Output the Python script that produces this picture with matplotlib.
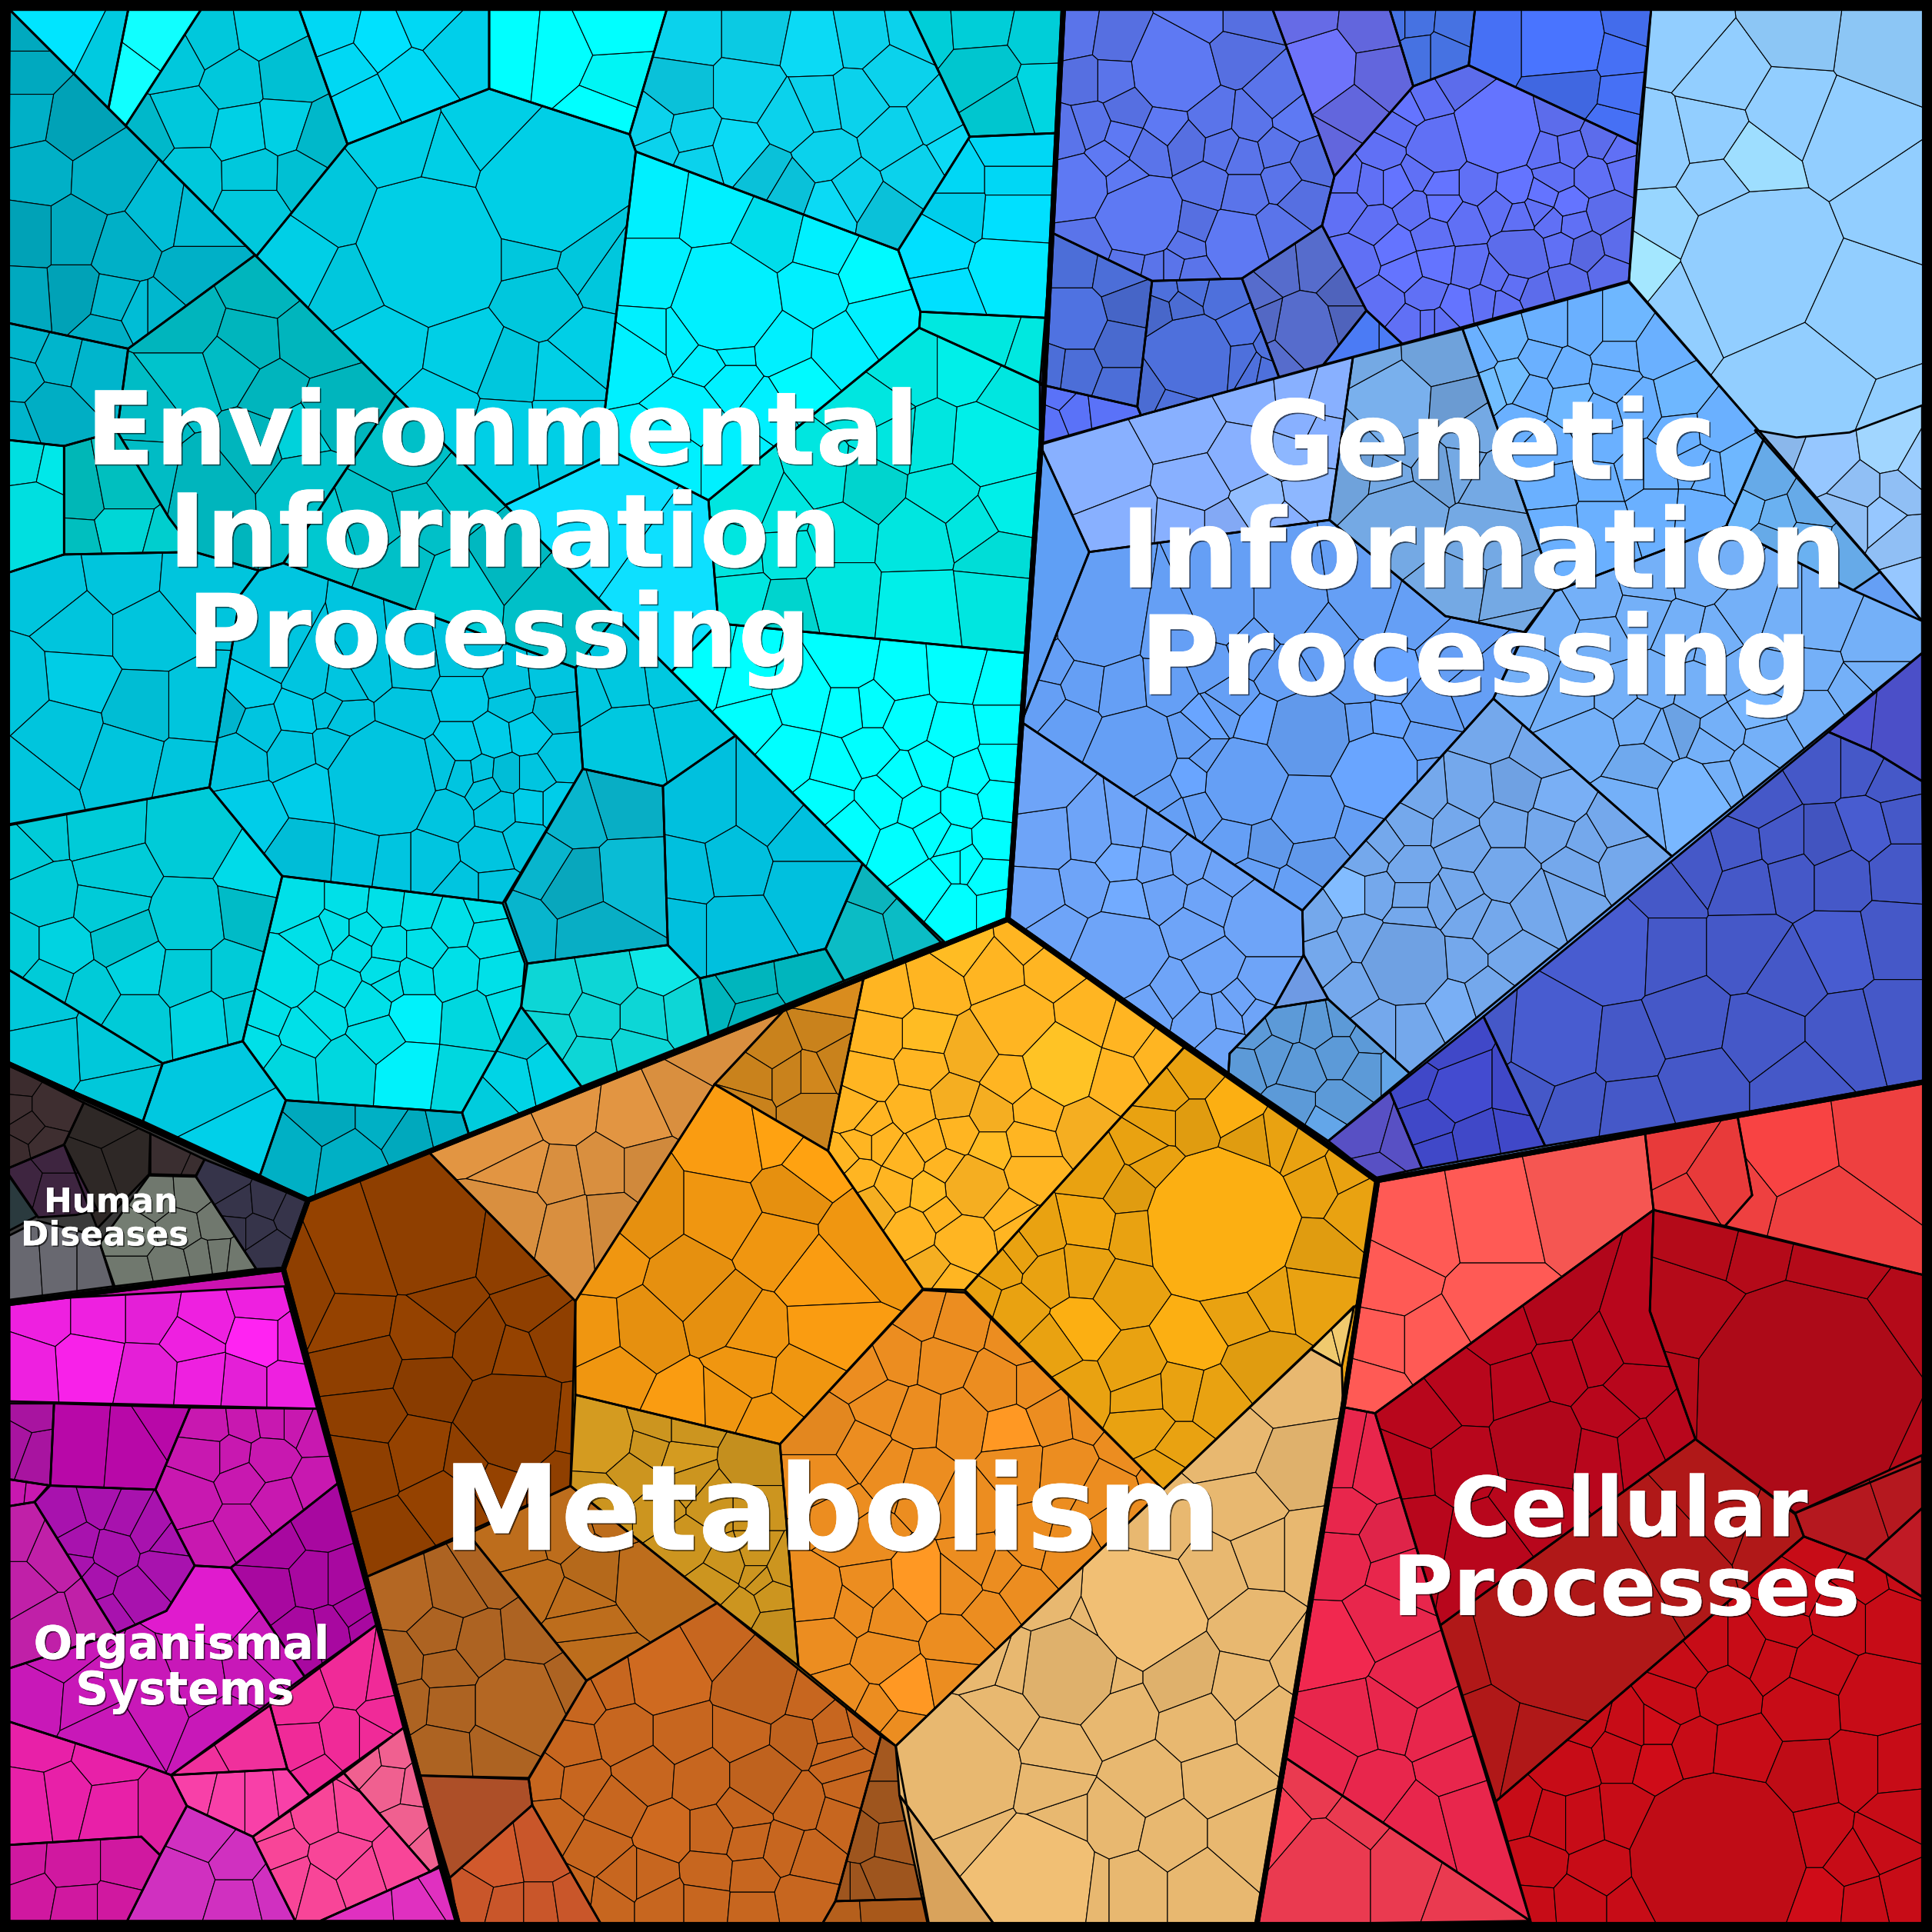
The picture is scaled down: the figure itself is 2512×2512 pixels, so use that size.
import numpy as np
import matplotlib
matplotlib.use('Agg')
import matplotlib.pyplot as plt
import matplotlib.colors as mcolors
import matplotlib.patheffects as pe
from matplotlib.patches import Polygon, Rectangle


def crop(ox, oy, pts, sx=3.0, sy=3.0):
    out = []
    for p in pts:
        q = [ox + p[0] / sx, oy + p[1] / sy]
        if len(p) > 2:
            q.append(p[2])
        if len(p) > 3:
            q.append(p[3] / sy)
        out.append(tuple(q))
    return out


# top level categories, outline (1568 px grid)
top_env = [(6, 6), (863, 6), (845, 360), (818, 746), (250, 974), (6, 863)]
top_gen = [(863, 6), (1562, 6), (1562, 878), (1118, 958), (818, 746), (845, 360)]
top_met = [(818, 746), (1118, 958), (1090, 1142), (1020, 1562), (372, 1562), (230, 1030), (250, 974)]
top_hum = [(6, 863), (250, 974), (230, 1030), (6, 1058)]
top_org = [(6, 1058), (230, 1030), (372, 1562), (6, 1562)]
top_cel = [(1118, 958), (1562, 878), (1562, 1562), (1020, 1562), (1090, 1142)]
top_colors = ['#00c8dc', '#659ff5', '#e9a211', '#3a3a3a', '#cc12b0', '#c70c17']

# environmental information processing: (outline, colour, cells x, y, shade, radius)
env = [
    ([(8, 8), (104, 8), (88, 88)], '#00e5ff', [(50, 30, 0), (90, 50, -3)]),
    ([(104, 8), (163, 8), (102, 102), (88, 88)], '#10ffff', [(135, 30, 0), (105, 70, 0)]),
    ([(163, 8), (243, 8), (282, 117), (208, 208), (102, 102)], '#00c8dc', [
        (170, 32, 0), (215, 25, 1), (190, 65, 0), (233, 60, -1), (152, 97, 0), (197, 107, 1), (230, 103, 1),
        (260, 113, -2), (153, 143, 0), (207, 142, 0), (207, 167, 0), (243, 143, -1), (117, 113, -2), (143, 47, 0)]),
    ([(243, 8), (397, 8), (397, 72), (282, 117)], '#00d8f4', [
        (267, 23, 0), (310, 33, 1), (367, 37, -1), (280, 57, 0), (293, 83, 0), (333, 63, 0), (347, 17, 0)]),
    ([(397, 8), (541, 8), (511, 109), (397, 72)], '#00ffff', [
        (420, 40, 0), (450, 43, 0), (503, 67, -1), (500, 20, 0), (493, 93, 0)]),
    ([(541, 8), (738, 8), (787, 111), (729, 203), (516, 123), (511, 109)], '#0bd2ec', crop(499, 0, [
        (180, 80), (340, 80, -1), (490, 110, 1), (600, 90), (730, 70), (160, 220, -2), (320, 220), (495, 260), (590, 245), (680, 180), (680, 340),
        (90, 310), (180, 330), (300, 370, 1), (430, 290), (510, 380), (830, 360, 1), (790, 290), (370, 430, -2), (420, 460, -2), (580, 470),
        (530, 500, 1), (660, 520, -2), (730, 420), (195, 400), (110, 360)])),
    ([(738, 8), (863, 8), (858, 108), (787, 111)], '#00ced8', crop(499, 0, [
        (750, 60), (890, 50), (1040, 80), (900, 180, -1), (950, 260, -1), (1045, 230, 1)])),
    ([(787, 111), (858, 108), (850, 258), (747, 253), (729, 203)], '#00e0ff', crop(499, 0, [
        (960, 370, -1), (960, 440, -1), (960, 510), (950, 660, 1), (780, 610), (800, 720), (840, 500, -2), (840, 440, -1)])),
    ([(282, 117), (397, 72), (511, 109), (516, 123), (490, 340), (499, 367), (410, 410), (208, 208)], '#00cfe6', [
        (350, 200, 0, 52), (440, 155, 0, 45), (490, 220, -1), (395, 112, 0), (363, 133, 0), (330, 123, 0), (272, 170, -1),
        (245, 210, 0), (285, 230, -1), (310, 280, 0), (380, 290, 0), (440, 243, -1), (480, 213, -1), (430, 200, -1),
        (477, 283, 0), (413, 303, -1), (457, 307, 0), (360, 333, 0), (410, 347, 0), (457, 343, 0)]),
    ([(516, 123), (729, 203), (747, 253), (746, 266), (575, 406), (499, 367), (490, 340)], '#00f0ff', crop(499, 0, [
        (100, 480), (240, 500), (380, 570, -2), (510, 600), (620, 660, 1), (270, 740, 0, 110), (100, 680), (480, 710), (650, 790), (70, 850),
        (400, 840), (560, 850), (230, 880), (280, 850), (280, 930), (370, 1000), (450, 950, 1), (190, 1000), (90, 820), (160, 820), (120, 1100), (300, 1100)])),
    ([(747, 253), (850, 258), (847, 312), (746, 266)], '#00e8e0', crop(499, 0, [(900, 840), (1020, 880)])),
    ([(746, 266), (847, 312), (833, 530), (583, 506), (575, 406)], '#00e6e0', crop(499, 0, [
        (710, 900), (860, 900, 1), (960, 970), (640, 1000), (910, 1080, 1, 70), (780, 1070), (670, 1060), (610, 1180, -2), (810, 1200), (950, 1240, 1),
        (510, 1170), (340, 1220), (410, 1250), (740, 1310), (880, 1280), (930, 1350, -1), (540, 1290), (300, 1350), (415, 1340), (310, 1450),
        (540, 1450), (745, 1470, 1), (420, 1480, -2), (920, 1450)])),
    ([(545, 545), (583, 506), (833, 530), (818, 746), (766, 767)], '#00ffff', crop(400, 499, [
        (520, 150), (600, 170), (620, 250), (760, 200), (870, 130), (990, 150), (1130, 140), (1240, 170), (920, 220), (870, 225), (1010, 260),
        (1120, 290), (1240, 270), (730, 350), (920, 330), (830, 375), (1070, 370), (995, 400), (1160, 390), (1240, 360), (810, 450), (950, 450),
        (1140, 470), (1040, 470), (1230, 450), (870, 520), (1000, 570), (1075, 530), (1120, 555), (1215, 550), (1145, 600), (1210, 640), (1060, 660),
        (1130, 710), (1225, 710), (1130, 600)])),
    ([(499, 367), (575, 406), (583, 506), (545, 545), (410, 410)], '#0de0ff', [(480, 420, 0), (550, 470, 0)]),
    ([(8, 8), (207, 207), (104, 283), (6, 262)], '#00a9bf', [
        (20, 23, 0), (20, 60, 0), (60, 100, -1), (20, 93, 1), (30, 140, 1), (87, 143, 1), (23, 190, -1), (60, 190, 0),
        (100, 203, 1), (133, 173, 3), (157, 177, 3), (157, 223, 1), (60, 240, -1), (20, 243, 0), (92, 247, 2), (113, 257, 3),
        (127, 257, 2), (87, 270, 1)]),
    ([(207, 207), (321, 321), (230, 457), (210, 463), (158, 448), (137, 420), (95, 350), (104, 283)], '#00b5bd', [
        (150, 263, 0), (213, 230, 0), (203, 280, 0), (250, 277, 0), (150, 310, 2), (190, 297, 1), (223, 317, 0),
        (267, 333, 0), (207, 360, 0), (167, 393, 0), (240, 350, 4), (247, 390, 2), (120, 333, 1), (117, 383, 1)]),
    ([(321, 321), (500, 500), (467, 542), (230, 457)], '#00c0c8', [
        (333, 367, 0), (373, 400, 1), (413, 450, -1), (323, 460, 0), (370, 477, 2), (450, 483, 0), (300, 430, 0),
        (347, 420, 0), (267, 440, 1)]),
    ([(6, 357), (52, 362), (52, 450), (6, 465)], '#00dfe0', [(20, 367, 0), (48, 373, 1), (27, 417, 0)]),
    ([(52, 362), (95, 350), (137, 420), (158, 448), (52, 450)], '#00bfbf', [
        (63, 400, -1), (100, 393, 0), (100, 433, 3), (60, 442, 0), (137, 443, 2)]),
    ([(6, 262), (104, 283), (95, 350), (52, 362), (6, 357)], '#00b5cc', [
        (20, 277, 0), (48, 290, 0), (77, 297, 0), (13, 307, 0), (40, 333, -1), (10, 345, 0)]),
    ([(6, 465), (52, 450), (158, 448), (210, 463), (195, 483), (170, 639), (7, 669)], '#00c5dd', [
        (40, 480), (100, 470), (160, 475), (63, 509), (120, 509, 0), (60, 552, 1), (117, 579, -1), (157, 579), (50, 592), (107, 612), (153, 622), (13, 639), (17, 556)]),
    ([(195, 483), (210, 463), (230, 457), (467, 542), (473, 624), (408, 733), (229, 711), (170, 639)], '#00c5e0', crop(0, 499, [
        (610, 180, 1), (550, 240, -2), (625, 270), (730, 240, 1), (800, 230), (835, 250), (580, 340), (720, 330), (810, 320), (930, 400, 0, 120),
        (990, 240), (1130, 200, 1), (1250, 210), (1350, 230, -1), (1130, 320, 1), (1200, 300, 1), (1285, 290, 1), (1360, 350), (1070, 370), (1130, 390),
        (1170, 385), (1230, 390, -1), (1300, 390), (1180, 420), (1215, 470), (1290, 465, 1), (1355, 465, 1), (1090, 480), (1280, 550), (1190, 580), (1050, 600), (1130, 670),
        (1200, 670), (950, 600), (880, 590), (740, 580, -1), (610, 490, 1), (760, 420, 1), (900, 130), (760, 160), (830, 170), (650, 100), (1130, 100), (1240, 170),
        (1340, 160), (1000, 120)])),
    ([(467, 542), (500, 500), (597, 597), (538, 638), (473, 624)], '#00c8e0', crop(400, 499, [(310, 300, 0, 60), (250, 200), (470, 270), (450, 160), (300, 180)])),
    ([(473, 624), (538, 638), (542, 767), (428, 782), (410, 732)], '#08aec5', crop(400, 499, [
        (320, 450), (190, 490, 1), (330, 640, 2), (200, 650, -1), (120, 600, 1), (250, 780), (60, 770, 1)])),
    ([(538, 638), (597, 597), (700, 701), (670, 770), (568, 794), (542, 767)], '#00c0de', crop(400, 499, [
        (505, 470), (680, 470), (585, 610), (470, 630), (760, 660), (590, 760), (450, 760), (760, 540)])),
    ([(700, 701), (766, 764), (685, 796), (670, 770)], '#0bbcc5', crop(400, 499, [(930, 660, -1), (1020, 740), (890, 770)])),
    ([(568, 794), (670, 770), (685, 796), (575, 841)], '#00b5bd', crop(400, 499, [(610, 900), (770, 880), (540, 950), (630, 980)])),
    ([(428, 782), (542, 767), (568, 794), (575, 841), (472, 882), (423, 817)], '#0dd6d6', crop(400, 499, [
        (150, 920), (280, 890), (410, 860, 2), (250, 980), (370, 980), (140, 1020), (470, 970), (240, 1080), (350, 1060)])),
    ([(6, 670), (170, 639), (229, 711), (197, 845), (132, 863), (57, 817), (7, 787)], '#00cbd8', crop(0, 499, [
        (60, 560), (90, 530), (240, 520), (470, 530, 0), (270, 640), (260, 700, 0), (460, 750), (110, 680), (640, 630, 2), (620, 730, -2), (150, 820, 1), (300, 800, -1),
        (330, 860, 1), (460, 880), (570, 880), (220, 920), (120, 890), (330, 990), (500, 980, 1), (595, 970), (40, 820)])),
    ([(229, 711), (408, 733), (426, 782), (423, 817), (375, 903), (232, 893), (197, 845)], '#00e0e8', crop(0, 499, [
        (730, 700), (850, 700), (940, 710), (1020, 720), (1100, 750), (1190, 710), (1200, 780), (700, 880, 0, 50), (770, 790), (820, 770), (880, 770), (860, 810), (950, 810),
        (1030, 810), (1110, 870), (1000, 880), (1220, 880), (820, 900), (940, 870), (950, 890), (650, 970), (900, 950), (780, 970), (1150, 980, -1), (740, 1010), (1000, 970, 2),
        (920, 1020), (620, 1050), (1130, 1130, -1), (990, 1110, 2), (840, 1100, -1), (700, 1110, -1), (1240, 950)])),
    ([(423, 817), (472, 882), (381, 922), (375, 903)], '#00ccdd', crop(0, 499, [(1270, 1020, -1), (1240, 1130, 1), (1340, 1110, 1), (1180, 1190)])),
    ([(7, 787), (57, 817), (132, 863), (116, 910), (6, 863)], '#00c8da', crop(0, 499, [(80, 950), (280, 1040), (310, 1190), (100, 1050)])),
    ([(132, 863), (197, 845), (232, 893), (211, 954), (116, 910)], '#00c8e0', crop(0, 499, [(510, 1170), (560, 1270, 1)])),
    ([(232, 893), (375, 903), (381, 922), (250, 974), (211, 954)], '#00b0c5', crop(0, 499, [
        (790, 1220, -1), (710, 1310), (850, 1330), (1000, 1260, -1), (940, 1220), (1090, 1240)])),
]

# genetic information processing
gen = [
    ([(864, 8), (1033, 8), (1083, 143), (1073, 183), (1008, 226), (935, 228), (854, 189)], '#5a74ea', crop(836, 0, [
        (110, 90), (205, 105, -1), (130, 190, -1), (350, 170, 1, 85), (500, 130, -1), (420, 40, 1), (520, 40, -1), (600, 240),
        (200, 190), (150, 310), (240, 270, -1), (330, 310, 1), (90, 330), (225, 335, 1), (290, 365), (190, 385, 1),
        (445, 290), (540, 300), (640, 290, 1), (600, 360), (470, 360), (120, 450, 1, 50), (270, 530, 1, 85), (380, 350, -1),
        (430, 450), (520, 380), (620, 440), (520, 470), (660, 480, -1), (400, 550, -1), (500, 590, 1, 55), (600, 560),
        (230, 440, 1), (140, 600), (380, 600), (350, 650), (250, 640), (390, 660), (300, 650), (680, 400, -1)])),
    ([(1033, 8), (1128, 8), (1147, 70), (1083, 143)], '#6a6ff0', crop(836, 0, [
        (700, 170, 1, 60), (660, 40, -1), (840, 60, -2), (860, 180, -2), (780, 280, -2), (735, 360, -2)])),
    ([(1128, 8), (1197, 8), (1192, 53), (1147, 70)], '#4672e2', crop(836, 0, [
        (930, 50), (1040, 60), (1010, 130), (940, 130), (895, 50)])),
    ([(1197, 8), (1340, 8), (1329, 117), (1192, 53)], '#4670f5', crop(836, 0, [
        (1120, 100), (1300, 100, 1, 70), (1470, 70, -1), (1450, 130, 0), (1310, 210, -2), (1440, 310), (1460, 230)])),
    ([(1147, 70), (1192, 53), (1329, 117), (1322, 228), (1138, 279), (1109, 252), (1073, 183), (1083, 143)], '#6070f5', crop(836, 0, [
        (1140, 320, 1, 85), (990, 360, 0, 50), (960, 240), (1040, 190, -1), (1290, 290, -1), (1390, 340, -1), (890, 310), (860, 370),
        (920, 260, 1), (1310, 365), (1265, 370), (1280, 430), (1370, 430), (1440, 370), (1450, 405), (1180, 460, 1), (1250, 480, 1),
        (1310, 500, 1), (1400, 520, -1), (1240, 510), (1320, 545), (1270, 540), (1000, 450, 1), (1090, 450), (950, 420), (890, 450, 1),
        (830, 450), (770, 440), (770, 500), (940, 510), (1060, 545), (1000, 500, 1), (840, 550), (1140, 510), (1190, 530),
        (1195, 620, -1, 50), (1350, 610, -2), (1440, 590, -1), (1290, 600), (885, 600, 1), (980, 570), (800, 630), (910, 660, 1), (990, 640, 1),
        (1070, 650), (1140, 670), (1230, 710, -1), (1310, 690, -1), (860, 730), (965, 720), (1040, 750, 1), (1110, 740), (1150, 745),
        (1180, 690), (930, 790), (970, 790), (1000, 790), (1410, 670, -1)])),
    ([(1008, 226), (1073, 183), (1109, 252), (1074, 296), (1038, 306)], '#566ccc', crop(836, 0, [
        (600, 640), (700, 630), (780, 710, -2), (670, 810, 0, 55), (560, 790, -1), (780, 780, -2), (600, 880), (530, 720)])),
    ([(1109, 252), (1138, 279), (1074, 296)], '#4b7bf5', crop(836, 0, [(810, 840), (890, 840)])),
    ([(935, 228), (1008, 226), (1038, 306), (926, 337), (923, 330)], '#4e70dc', crop(836, 0, [
        (390, 870, 0, 90), (330, 710), (390, 700), (470, 720), (510, 800, 1), (315, 750, -2), (365, 740, -1), (545, 895), (570, 900),
        (290, 940, -1), (360, 975), (520, 880), (590, 850)])),
    ([(854, 189), (935, 228), (923, 330), (844, 312)], '#4c6ed8', crop(836, 0, [
        (100, 640), (220, 660), (250, 740, -2), (100, 780, 1, 50), (230, 840, -1), (100, 900), (230, 950), (60, 895, 0)])),
    ([(844, 312), (923, 330), (926, 337), (844, 360)], '#5a72f8', crop(836, 0, [(50, 1020), (100, 1000), (190, 990), (70, 970)])),
    ([(1340, 8), (1562, 8), (1560, 504), (1432, 355), (1322, 228)], '#92ceff', [
        (1426, 216, 0, 55), (1511, 255, 0, 40), (1467, 310, 0, 42), (1540, 170), (1500, 110), (1350, 185, 1), (1372, 240), (1345, 120), (1390, 110),
        (1420, 130, 2), (1450, 90), (1400, 60), (1530, 30, -1), (1455, 20, -1), (1365, 30), (1540, 340), (1335, 210, 3), (1395, 150)]),
    ([(1424, 349), (1458, 355), (1501, 351), (1560, 329), (1560, 504), (1526, 464)], '#90bff5', crop(1044, 212, [
        (1190, 430, -1), (1320, 480, 1), (1470, 460, 3), (1540, 500, 2), (1450, 620, 1), (1380, 620), (1500, 680, 0), (1530, 780, 1),
        (1400, 560), (1490, 560)])),
    ([(1187, 267), (1322, 229), (1432, 355), (1401, 427), (1262, 480), (1251, 449)], '#6ab0ff', crop(1044, 212, [
        (460, 230), (530, 190, 1), (550, 290, 2), (640, 160), (730, 160), (810, 160, 1), (810, 230), (680, 270), (600, 320),
        (490, 310, 2), (620, 240), (900, 220), (800, 290), (950, 330, 1), (690, 340, 1), (760, 380), (860, 350), (960, 420),
        (1050, 410), (1100, 500, 1), (1000, 500), (840, 510), (780, 450), (620, 450), (640, 550), (770, 530), (900, 510),
        (650, 650), (770, 640), (900, 600), (1000, 610), (1020, 510), (570, 400)])),
    ([(1432, 355), (1526, 464), (1504, 479), (1401, 427)], '#66aae8', crop(1044, 212, [
        (1160, 530), (1280, 600), (1370, 700), (1120, 610, 2), (1190, 630, 1), (1175, 670), (1270, 680, 1)])),
    ([(1262, 480), (1401, 427), (1504, 479), (1560, 504), (1560, 530), (1357, 695), (1212, 567), (1237, 515)], '#74b0f8', crop(1044, 212, [
        (750, 820), (880, 780), (1000, 760), (1120, 870), (1050, 920), (960, 900), (870, 860), (1210, 900), (1300, 900),
        (1420, 950), (1290, 990), (1190, 1000), (1100, 1000), (760, 920), (650, 880), (590, 1000), (700, 1050), (800, 1050),
        (900, 1030), (1000, 1050), (1150, 1090, 1), (1170, 1170), (1060, 1150), (1290, 1100), (1380, 1040), (1420, 1000),
        (740, 1150), (860, 1120), (950, 1140, -2), (1040, 1180), (1130, 1230), (870, 1230, -1), (990, 1300, 1, 60), (920, 1150),
        (1050, 1260), (850, 1320)])),
    ([(1098, 290), (1187, 267), (1251, 449), (1262, 480), (1237, 513), (1173, 500), (1079, 422)], '#74a9e4', crop(836, 0, [
        (880, 990, 1, 80), (990, 870, -1), (820, 880), (1020, 1000, -2), (1060, 1060), (790, 1150, -1), (900, 1260, 0, 70), (1050, 1130),
        (1120, 1170), (870, 1160), (1100, 1300), (1040, 1440), (1165, 1460), (1180, 1530), (830, 1040), (910, 1080), (990, 1140, -1)])),
    ([(844, 361), (926, 337), (1098, 290), (1079, 422), (884, 448)], '#88b0ff', crop(836, 0, [
        (180, 1150, 0), (380, 1040), (410, 1180), (540, 950), (230, 1280), (640, 1100, 1), (510, 1120), (650, 940), (720, 960),
        (700, 1060), (560, 1230, 2), (680, 1210, 1), (470, 1290, -1), (620, 1280), (380, 1290), (660, 1040)])),
    ([(844, 361), (884, 448), (829, 586)], '#5f9ff5', [(855, 470)]),
    ([(884, 448), (1079, 422), (1173, 500), (1237, 513), (1212, 567), (1057, 739), (829, 586)], '#659ff5', crop(811, 468, [
        (240, 120, 0, 80), (120, 210), (210, 260), (290, 270), (100, 300), (170, 360), (330, 430, 0, 85), (80, 140), (600, 500, 0, 90),
        (755, 390, -1, 90), (920, 480, 1, 95), (750, 560, 0, 70), (470, 395), (510, 350, 1), (540, 330), (630, 360, 1), (880, 375), (940, 370, 1),
        (1030, 410), (470, 490, 1), (510, 440), (390, 530), (490, 570), (570, 640), (650, 650, -1), (770, 690, -1), (880, 600), (720, 770), (620, 740),
        (1040, 480), (430, 590), (700, 100), (790, 170), (910, 70), (1000, 100), (1090, 200), (1150, 270), (960, 240, 1), (1050, 310), (870, 240),
        (690, 230), (560, 300), (620, 180), (510, 220), (420, 260), (540, 100), (430, 150)])),
    ([(829, 586), (1057, 739), (1058, 775), (1034, 818), (998, 855), (997, 871), (818, 746)], '#6ea4f8', crop(811, 468, [
        (110, 640), (90, 500), (230, 630), (310, 620), (395, 630), (300, 690, 1), (380, 700), (460, 690), (550, 720), (640, 830, 0, 60),
        (210, 760), (310, 790, 1), (400, 770), (505, 790), (100, 780), (150, 860), (290, 920, 0, 90), (470, 860), (520, 950), (640, 1000),
        (420, 1010), (490, 1080), (560, 1070), (360, 1050), (595, 1040), (620, 1060), (545, 1140)])),
    ([(1058, 775), (1078, 811), (1034, 818)], '#6e9ae4', crop(811, 468, [(740, 1000)])),
    ([(1034, 818), (1078, 811), (1144, 871), (1078, 926), (997, 871), (998, 855)], '#5c9ad8', crop(811, 468, [
        (610, 1110), (700, 1075), (780, 1090), (660, 1170), (730, 1200), (830, 1080), (900, 1120), (830, 1160), (895, 1200), (710, 1290),
        (830, 1290), (965, 1200, 2), (800, 1340, 2), (600, 1190)])),
    ([(1057, 739), (1212, 567), (1357, 695), (1144, 871), (1078, 811), (1058, 775)], '#74a8ec', crop(811, 468, [
        (1200, 370), (1320, 420), (1150, 530), (1360, 550, 1), (1255, 520, -1), (1030, 540), (1110, 610), (1000, 600), (1130, 650), (1230, 600),
        (1340, 610), (1440, 650), (1490, 620), (1510, 690), (1410, 710), (1230, 720), (1090, 790), (1000, 710), (930, 650), (860, 770, 3),
        (920, 770), (1000, 830), (1000, 780), (1320, 800), (1200, 860), (1110, 780), (770, 830), (880, 880), (990, 940, -1, 90), (800, 920),
        (1130, 930), (1250, 930), (1380, 780), (870, 1000), (1000, 1090), (1100, 1040, 1), (1190, 1010), (930, 1090), (900, 680), (1140, 830)])),
    ([(1204, 825), (1484, 594), (1521, 610), (1560, 634), (1562, 878), (1254, 930)], '#4558c8', [
        (1427, 649), (1477, 619), (1511, 619), (1537, 632), (1481, 685, -1), (1517, 672, 1), (1544, 665), (1411, 689), (1447, 685),
        (1377, 699), (1419, 715), (1454, 709), (1491, 709), (1544, 705), (1304, 768, 1, 30), (1261, 845, 1, 30), (1278, 895), (1214, 841), (1318, 851),
        (1241, 881), (1324, 901), (1350, 770), (1420, 770), (1490, 770, 1), (1540, 760), (1370, 830), (1430, 840), (1500, 840), (1450, 790),
        (1380, 880), (1460, 880), (1540, 830), (1350, 720)]),
    ([(1128, 886), (1204, 825), (1254, 930), (1154, 948)], '#4048c8', crop(811, 468, [
        (1110, 1260, 1), (1060, 1130), (1000, 1220), (1160, 1380), (1040, 1340), (1060, 1400), (1270, 1360), (1290, 1260)])),
    ([(1078, 926), (1128, 886), (1154, 948), (1116, 956)], '#5850c4', crop(811, 468, [(900, 1360), (970, 1380), (920, 1450)])),
    ([(1484, 594), (1560, 530), (1560, 634), (1521, 610)], '#4b4fc8', crop(1044, 212, [(1480, 1130), (1380, 1120, 1)])),
]

# metabolism
met = [
    ([(250, 974), (348, 935), (467, 1056), (463, 1206), (297, 1280), (230, 1030)], '#8f3f00', [
        (350, 1010, 0, 30), (290, 1030, 1), (415, 1020), (245, 1050), (288, 1071, 1), (347, 1081, 1), (392, 1087), (296, 1107), (349, 1124, -1),
        (420, 1095, 1), (445, 1085), (301, 1151), (339, 1177, 1), (296, 1187), (319, 1251), (417, 1157, -1, 35), (457, 1161, 1), (363, 1060),
        (385, 1185), (405, 1195, 1), (450, 1195), (360, 1220, 1), (430, 1065)]),
    ([(348, 935), (638, 818), (580, 880), (467, 1056)], '#d98f3f', crop(400, 499, [
        (170, 1210, 1), (340, 1230, 1), (470, 1170), (40, 1270, 1), (80, 1350, 1), (160, 1370), (270, 1350), (370, 1350, -1), (60, 1450), (190, 1480), (280, 1470, -1), (520, 1080)])),
    ([(638, 818), (701, 793), (672, 934), (580, 880)], '#c9821c', crop(400, 499, [
        (800, 1000), (680, 1050), (770, 1130, 1), (630, 1130), (730, 1130), (610, 1200), (770, 1200), (850, 1090), (810, 940, 2)])),
    ([(701, 793), (817, 747), (961, 850), (783, 1047), (749, 1046), (672, 934)], '#ffb522', crop(624, 737, [
        (400, 190), (550, 150), (290, 210), (470, 90, 1), (630, 70), (690, 140), (600, 280, 0, 50), (780, 260), (880, 290), (960, 350),
        (380, 310, 1), (270, 310), (490, 350, -1), (370, 385), (710, 385, 2, 70), (840, 420), (590, 420), (450, 470, -1), (250, 410), (350, 490),
        (210, 500), (540, 500, -1), (650, 490), (630, 570), (770, 530, -1), (460, 550), (390, 570), (540, 590, 1), (330, 610), (180, 610), (245, 530),
        (270, 570), (220, 650), (500, 680, -1, 60), (395, 690, 1), (300, 680), (630, 640), (480, 810, 0, 50), (350, 790), (600, 790), (570, 740),
        (430, 740), (400, 880, -1), (250, 720, -1), (440, 910), (230, 570), (430, 630)])),
    ([(961, 850), (1074, 929), (1116, 959), (1101, 1059), (944, 1209), (783, 1047)], '#e9a211', crop(624, 737, [
        (1100, 770, 2, 170), (1030, 400), (1130, 490, 2), (960, 450), (1030, 530, -1), (1175, 570, -1), (920, 580), (950, 530), (1250, 560),
        (1300, 580), (1340, 660), (1400, 640), (1440, 720), (1330, 850, -1), (940, 620), (880, 690, -1), (785, 770, 1), (800, 640), (890, 790), (650, 800),
        (680, 890), (1215, 935), (600, 980), (770, 880), (860, 930), (760, 1020, 2), (610, 830), (1140, 980), (1030, 1050, 2), (1320, 920), (1190, 1120, -1),
        (890, 1120), (750, 1180), (1000, 1180), (920, 1260), (1090, 1200), (1000, 1320), (914, 1185), (970, 1370), (510, 950), (560, 870), (690, 1070)])),
    ([(580, 880), (672, 934), (749, 1046), (633, 1172), (467, 1132), (467, 1056)], '#f09610', [
        (600, 930, 1), (640, 965, -1), (520, 985, -1), (590, 985), (665, 1037, 1), (560, 1040, -1), (522, 1081, -1), (587, 1067, -1), (613, 1084),
        (607, 1111), (650, 1117), (667, 1081, 1), (483, 1084), (497, 1114), (557, 1142, 1), (587, 1141), (620, 1157), (490, 1020), (630, 1010), (700, 1005),
        (630, 925, 2), (655, 945, 2)]),
    ([(749, 1047), (783, 1049), (944, 1209), (727, 1417), (648, 1352), (633, 1172)], '#ec8d20', crop(350, 1044, [
        (1200, 70), (1140, 170), (1050, 210), (1270, 90), (1100, 290), (960, 350, -1), (1290, 330), (1180, 320), (1240, 180), (1380, 240),
        (1440, 130), (1470, 240), (1410, 350, 2), (1510, 310), (1120, 450), (1190, 470), (1050, 400), (960, 470), (1000, 550), (1190, 730, 2),
        (1310, 530), (1420, 440), (1040, 610), (1060, 740), (950, 760), (1030, 780), (1120, 800), (1100, 900), (960, 860), (1280, 870), (1360, 790),
        (1430, 740), (1290, 730), (1330, 680), (1380, 700), (1160, 980, 2), (1080, 1040), (1000, 1000), (1270, 960), (1140, 1090),
        (1460, 620), (1550, 450), (1600, 300), (1700, 380), (1750, 240), (1640, 500), (1540, 640), (1680, 560), (1800, 450), (1900, 500)])),
    ([(467, 1132), (633, 1172), (648, 1352), (582, 1301), (463, 1206)], '#cc951f', crop(350, 1044, [
        (430, 380, 1), (560, 340), (600, 420, 1), (790, 440, -1), (500, 460), (620, 480), (540, 400), (610, 340), (680, 530), (560, 530),
        (790, 530), (620, 620), (790, 660), (730, 680), (790, 700), (830, 750), (840, 830, -1), (750, 780), (700, 730), (800, 710), (850, 690), (420, 530)])),
    ([(463, 1206), (582, 1301), (476, 1364), (380, 1245)], '#bd6d1c', crop(350, 1044, [
        (230, 620), (260, 730), (390, 690, -1), (520, 700), (370, 900), (470, 550), (350, 770), (360, 820), (310, 600)])),
    ([(297, 1280), (380, 1245), (476, 1364), (429, 1444), (340, 1441)], '#ad6322', [
        (329, 1297, 1), (357, 1327), (324, 1351), (362, 1354), (364, 1384), (331, 1381), (357, 1421), (423, 1384, 1, 30), (370, 1290), (393, 1275),
        (387, 1334), (430, 1330), (407, 1417), (455, 1370)]),
    ([(340, 1441), (429, 1443), (432, 1465), (365, 1524)], '#ad4f28', [(385, 1475)]),
    ([(432, 1465), (365, 1524), (372, 1562), (488, 1562)], '#c9562a', crop(350, 1044, [
        (160, 1400, 1), (270, 1380), (100, 1500), (180, 1520), (270, 1520), (340, 1510)])),
    ([(476, 1364), (582, 1301), (715, 1409), (678, 1543), (667, 1562), (488, 1562), (432, 1465), (429, 1443)], '#c7661f', crop(350, 1044, [
        (570, 940, 1, 70), (690, 870), (800, 970, -1, 70), (440, 960), (360, 1000), (610, 1090), (760, 1090), (910, 1000), (980, 1080), (1060, 1060),
        (470, 1090), (340, 1120), (890, 1100, -1), (990, 1130), (520, 1190), (280, 1200), (360, 1210), (660, 1200), (810, 1200, -1, 50), (760, 1280), (900, 1260),
        (1000, 1160), (1020, 1230), (410, 1370), (450, 1270), (290, 1300), (570, 1330, 1), (690, 1330), (920, 1390), (860, 1370), (770, 1350), (1000, 1290),
        (470, 1440), (680, 1430), (780, 1440), (900, 1490), (530, 1440), (430, 1500), (560, 1500), (670, 1500), (780, 1510), (350, 1490)])),
    ([(715, 1409), (727, 1417), (750, 1541), (678, 1543)], '#9e551e', crop(350, 1044, [
        (1110, 1150, 1), (1110, 1260), (1050, 1340), (1120, 1350, 1), (1100, 1440), (1010, 1470), (1030, 1470)])),
    ([(678, 1543), (750, 1541), (754, 1562), (667, 1562)], '#a8581a', crop(350, 1044, [(980, 1530, 2), (1110, 1520)])),
    ([(944, 1209), (1064, 1095), (1089, 1109), (1090, 1142), (1020, 1562), (807, 1562), (730, 1457), (727, 1417)], '#e8b870', [
        (1040, 1125), (1000, 1170), (1050, 1190, -1), (1010, 1225), (985, 1275), (925, 1305, 1, 40), (1060, 1260), (1020, 1320), (960, 1360, -1), (868, 1355, -1, 35),
        (815, 1395), (776, 1437, 0, 45), (855, 1420), (905, 1390), (975, 1400), (1030, 1395), (860, 1480), (930, 1450), (990, 1445), (920, 1530), (840, 1525, 1, 45),
        (975, 1530), (795, 1485), (890, 1320), (850, 1300), (895, 1360), (850, 1450), (905, 1480), (950, 1490), (1010, 1490), (830, 1350), (800, 1340), (1025, 1260),
        (940, 1240), (1060, 1350), (1010, 1370), (880, 1530)]),
    ([(1064, 1095), (1099, 1060), (1089, 1109)], '#f0ca6e', crop(624, 737, [(1360, 1070), (1400, 1060)])),
    ([(730, 1457), (807, 1562), (753, 1562)], '#d9a35c', crop(350, 1044, [(1260, 1480)])),
]

# cellular processes
cel = [
    ([(1118, 958), (1335, 919), (1342, 982), (1116, 1147), (1090, 1142), (1102, 1060)], '#ff5a55', [
        (1150, 1000), (1130, 1040), (1210, 990), (1280, 975, -1), (1210, 1060), (1120, 1090), (1160, 1090), (1110, 1125)]),
    ([(1335, 919), (1410, 905), (1422, 970), (1400, 995), (1342, 982)], '#e83a3a', [(1355, 940), (1385, 960), (1370, 970)]),
    ([(1410, 905), (1562, 878), (1562, 1035), (1400, 995), (1422, 970)], '#ee4040', [(1450, 930, 1), (1530, 920), (1480, 990), (1400, 970)]),
    ([(1116, 1147), (1342, 982), (1339, 1064), (1376, 1168), (1169, 1319)], '#b8061c', [
        (1261, 1067, -1), (1221, 1081), (1187, 1127), (1234, 1124), (1267, 1111), (1324, 1127), (1327, 1087),
        (1297, 1101), (1251, 1174, -1, 25), (1184, 1187), (1141, 1191), (1157, 1151), (1306, 1147), (1331, 1177),
        (1359, 1164), (1204, 1251), (1147, 1241), (1244, 1221), (1297, 1181)]),
    ([(1342, 982), (1562, 1035), (1562, 1185), (1457, 1228), (1376, 1168), (1339, 1064)], '#ad0a18', [
        (1464, 1134, 0, 85), (1377, 1071, 1), (1364, 1131, 1), (1420, 1005, 1), (1490, 1020, 1), (1555, 1070, 1), (1562, 1180, 1), (1400, 1000, 1)]),
    ([(1169, 1319), (1376, 1168), (1457, 1229), (1464, 1247), (1214, 1462)], '#b01818', [
        (1271, 1314, 0, 70), (1361, 1261), (1400, 1225), (1184, 1337), (1211, 1407), (1244, 1414), (1440, 1240)]),
    ([(1457, 1228), (1560, 1181), (1560, 1224), (1514, 1266), (1464, 1247)], '#b5181f', [(1500, 1225), (1545, 1210)]),
    ([(1514, 1266), (1560, 1224), (1560, 1296)], '#c01a25', [(1540, 1260)]),
    ([(1464, 1247), (1514, 1266), (1560, 1296), (1560, 1562), (1243, 1562), (1214, 1462)], '#c70c17', crop(1044, 1044, [
        (1050, 1400, -1, 200), (820, 1130), (900, 1150, 1), (990, 1120), (1100, 1130), (1270, 1200, -1), (1400, 1180), (1480, 1180), (1430, 1000), (1260, 1010),
        (1130, 880), (1180, 900), (1290, 930), (1020, 880), (1060, 990), (940, 1010), (900, 1080, 1), (840, 1080), (970, 920), (680, 1170), (720, 1050), (570, 1280),
        (640, 1300), (720, 1300), (600, 1400), (770, 1420), (820, 1290), (590, 1520), (720, 1510), (840, 1510), (1300, 1490, 1), (1300, 1340), (1380, 1400), (1450, 1360),
        (1490, 1280), (1500, 1480), (1410, 1500), (1350, 800), (1470, 800), (1510, 690), (1290, 640), (1230, 740), (1200, 830), (1410, 710)])),
    ([(1090, 1142), (1116, 1147), (1242, 1559), (1044, 1427)], '#e8264c', [
        (1111, 1194), (1084, 1334, 1), (1127, 1247, -1), (1087, 1264), (1137, 1277), (1121, 1314), (1147, 1367), (1097, 1397),
        (1131, 1391), (1181, 1437), (1151, 1477), (1191, 1467), (1074, 1434), (1117, 1451), (1090, 1190), (1090, 1225), (1165, 1400)]),
    ([(1044, 1427), (1242, 1559), (1020, 1562)], '#ea3a50', [
        (1075, 1510, 0, 25), (1140, 1510), (1040, 1480, 1), (1195, 1530), (1070, 1452), (1100, 1475)]),
]

# organismal systems, this crop came out wider than tall
org_sx = 3.924
org = [
    (crop(0, 1044, [(30, 35), (905, 0), (1010, 298), (30, 280)], org_sx), '#ee20e0', crop(0, 1044, [
        (140, 60), (310, 60), (490, 60, -1), (640, 80), (840, 30), (830, 130, 2), (940, 130), (780, 240, -1), (920, 240), (280, 190, 1), (80, 200),
        (480, 220, -1), (640, 230), (610, 120)], org_sx)),
    (crop(0, 1044, [(30, 285), (172, 285), (160, 485), (30, 470)], org_sx), '#a814a0', crop(0, 1044, [(50, 380), (120, 400), (100, 310)], org_sx)),
    (crop(0, 1044, [(172, 285), (605, 295), (495, 495), (160, 485)], org_sx), '#b808a8', crop(0, 1044, [(260, 400), (420, 410), (560, 340)], org_sx)),
    (crop(0, 1044, [(605, 295), (1010, 298), (1075, 480), (735, 685), (620, 680), (495, 495)], org_sx), '#c818b0', crop(0, 1044, [
        (670, 340), (780, 330), (860, 320), (950, 320), (1010, 340), (850, 420), (660, 410), (740, 410), (610, 520), (770, 470), (770, 590),
        (880, 530), (650, 640), (1020, 490)], org_sx)),
    (crop(0, 1044, [(110, 525), (155, 485), (495, 495), (620, 680), (530, 790), (370, 845)], org_sx), '#a812ae', crop(0, 1044, [
        (200, 560), (330, 530), (390, 550), (490, 590), (355, 650), (540, 620), (250, 630), (240, 680), (300, 720), (430, 750), (530, 680),
        (340, 800)], org_sx)),
    (crop(0, 1044, [(30, 535), (110, 525), (370, 845), (30, 930)], org_sx), '#c020a8', crop(0, 1044, [
        (150, 650), (60, 720), (150, 840), (320, 800), (60, 620)], org_sx)),
    (crop(0, 1044, [(30, 470), (160, 485), (110, 525), (30, 535)], org_sx), '#c818b0', crop(0, 1044, [(50, 500), (110, 505)], org_sx)),
    (crop(0, 1044, [(30, 930), (370, 845), (530, 790), (620, 680), (735, 685), (970, 950), (545, 1190), (475, 1170), (30, 1060)], org_sx), '#c818b8', crop(0, 1044, [
        (680, 780, 3), (120, 990), (280, 1000), (330, 1080), (500, 1000), (180, 900), (850, 900), (630, 960), (800, 940), (720, 1070)], org_sx)),
    (crop(0, 1044, [(735, 685), (1075, 480), (1198, 825), (970, 950)], org_sx), '#a808a0', crop(0, 1044, [
        (870, 630), (1020, 570), (860, 740), (1000, 720), (1090, 720), (1050, 840), (1140, 790), (1170, 825), (970, 850)], org_sx)),
    (crop(0, 1044, [(545, 1190), (860, 1020), (915, 1175)], org_sx), '#f0309c', crop(0, 1044, [(770, 1110), (630, 1170)], org_sx)),
    (crop(0, 1044, [(860, 1020), (1198, 825), (1285, 1075), (985, 1240), (915, 1175)], org_sx), '#f02a98', crop(0, 1044, [
        (950, 1000), (1130, 950), (960, 1130), (1100, 1110), (1190, 1110), (1220, 960), (1240, 1040), (1000, 1190)], org_sx)),
    (crop(0, 1044, [(545, 1190), (915, 1175), (985, 1240), (805, 1340), (595, 1265)], org_sx), '#f840a8', crop(0, 1044, [
        (620, 1230), (730, 1250), (830, 1250), (930, 1240)], org_sx)),
    (crop(0, 1044, [(30, 1060), (475, 1170), (545, 1190), (595, 1265), (510, 1385), (450, 1340), (30, 1360)], org_sx), '#e820a8', crop(0, 1044, [
        (130, 1110), (340, 1150), (100, 1250), (200, 1240), (360, 1270), (520, 1270, -1)], org_sx)),
    (crop(0, 1044, [(30, 1360), (450, 1340), (510, 1385), (405, 1545), (30, 1545)], org_sx), '#d018a0', crop(0, 1044, [
        (60, 1400), (230, 1410), (410, 1410), (100, 1490), (240, 1510), (380, 1510)], org_sx)),
    (crop(0, 1044, [(595, 1265), (805, 1340), (940, 1545), (405, 1545), (510, 1385)], org_sx), '#d030c0', crop(0, 1044, [
        (590, 1450), (650, 1330), (760, 1400), (760, 1490), (870, 1470)], org_sx)),
    (crop(0, 1044, [(805, 1340), (1095, 1185), (1370, 1425), (1020, 1545), (940, 1545)], org_sx), '#f84598', crop(0, 1044, [
        (1010, 1280), (1130, 1270), (880, 1370), (920, 1450), (1020, 1470), (1130, 1440), (1290, 1400), (1080, 1400), (1180, 1200), (850, 1310)], org_sx)),
    (crop(0, 1044, [(1095, 1185), (1285, 1075), (1400, 1410), (1370, 1425)], org_sx), '#f06090', crop(0, 1044, [
        (1170, 1150), (1240, 1200), (1330, 1210), (1310, 1320), (1250, 1140), (1360, 1360)], org_sx)),
    (crop(0, 1044, [(1020, 1545), (1400, 1415), (1450, 1545)], org_sx), '#e030c0', crop(0, 1044, [(1160, 1510), (1340, 1500), (1400, 1470)], org_sx)),
]

# human diseases
hum = [
    ([(7, 864), (68, 895), (52, 929), (7, 948)], '#3e2e30', [(42, 899, 0), (12, 878, -1), (10, 899, 0), (21, 917, -1), (12, 934, -1), (35, 930, 0)]),
    ([(68, 895), (122, 920), (121, 953), (79, 997), (52, 929)], '#2e2826', [(87, 909, 0), (71, 953, 0), (104, 941, 0)]),
    ([(7, 948), (52, 929), (79, 982), (62, 986), (31, 988), (7, 953)], '#3e2540', [(19, 959, 0), (44, 966, 0), (44, 938, 0)]),
    ([(7, 954), (30, 987), (7, 999)], '#2a3a3e', [(14, 977, 0)]),
    ([(7, 1003), (31, 991), (71, 1001), (81, 1009), (92, 1044), (7, 1055)], '#686870', [(18, 1030, 0), (48, 1028, 0), (77, 1028, -1)]),
    ([(122, 920), (166, 941), (159, 954), (122, 953)], '#3a2e30', [(142, 935, 0), (164, 945, 0)]),
    ([(121, 954), (159, 955), (208, 1030), (93, 1044), (81, 1009)], '#70786e', [
        (127, 970, 0), (156, 968, 0), (106, 1003, 1), (148, 997, 0), (175, 992, 0), (106, 1036, 0), (139, 1028, 0),
        (164, 1022, 0), (177, 1020, 0), (194, 1022, 0)]),
    ([(166, 941), (251, 975), (229, 1029), (208, 1030), (159, 955)], '#36344a', [
        (183, 961, 0), (193, 978, 0), (216, 976, 0), (237, 986, 0), (218, 1013, 0), (191, 998, 0), (208, 998, 0)]),
]

# text lines: label, x, y, size
label_text = ['Environmental', 'Information', 'Processing',
              'Genetic', 'Information', 'Processing',
              'Metabolism', 'Cellular', 'Processes',
              'Organismal', 'Systems', 'Human', 'Diseases']
label_x = [408, 410, 405, 1202, 1204, 1198, 675, 1322, 1320, 147, 150, 90, 85]
label_y = [354, 437, 519, 364, 452, 539, 1231, 1228, 1292, 1336, 1373, 976, 1003]
label_size = [38, 38, 38, 41, 41, 41, 44.5, 31, 31, 17.2, 17.2, 12.6, 12.6]


def clip_half(poly, p, q, rp, rq):
    # keep the part of poly that belongs to p rather than q, radii push the border away
    n = q - p
    mid = p + n * (0.5 + (rp * rp - rq * rq) / (2 * np.dot(n, n)))
    out = []
    for i in range(len(poly)):
        a, b = poly[i], poly[(i + 1) % len(poly)]
        da, db = np.dot(a - mid, n), np.dot(b - mid, n)
        if da <= 0:
            out.append(a)
        if da * db < 0:
            out.append(a + (b - a) * da / (da - db))
    return out


def shaded(color, s):
    rgb = np.array(mcolors.to_rgb(color)) * (1 + 0.04 * s)
    return tuple(np.clip(rgb, 0, 1))


fig = plt.figure(figsize=(10.048, 10.048), dpi=250)
ax = fig.add_axes([0, 0, 1, 1])
ax.set_xlim(0, 1568)
ax.set_ylim(1568, 0)
ax.axis('off')

for poly, col in zip([top_env, top_gen, top_met, top_hum, top_org, top_cel], top_colors):
    ax.add_patch(Polygon(poly, closed=True, fc=col, ec='none', zorder=1))

for group in [env, gen, met, cel, org, hum]:
    for outline, col, cells in group:
        pts = np.array([c[:2] for c in cells], dtype=float)
        shades = [c[2] if len(c) > 2 else 0 for c in cells]
        radii = [c[3] if len(c) > 3 else 0 for c in cells]
        for i in range(len(cells)):
            cell = [np.array(v, dtype=float) for v in outline]
            for j in range(len(cells)):
                if j != i and len(cell) > 2:
                    cell = clip_half(cell, pts[i], pts[j], radii[i], radii[j])
            if len(cell) > 2:
                ax.add_patch(Polygon(np.array(cell), closed=True, fc=shaded(col, shades[i]), ec='black', lw=0.32, zorder=2))
for group in [env, gen, met, cel, org, hum]:
    for outline, col, cells in group:
        ax.add_patch(Polygon(outline, closed=True, fc='none', ec='black', lw=0.8, zorder=3))

for poly in [top_env, top_gen, top_met, top_hum, top_org, top_cel]:
    ax.add_patch(Polygon(poly, closed=True, fc='none', ec='black', lw=2.0, joinstyle='miter', zorder=4))
ax.add_patch(Rectangle((0, 0), 1568, 1568, fc='none', ec='black', lw=6.4, zorder=5))

for t, x, y, s in zip(label_text, label_x, label_y, label_size):
    ax.text(x, y, t, ha='center', va='center', color='white', fontsize=s, fontweight='bold', zorder=6,
            family='DejaVu Sans',
            path_effects=[pe.withSimplePatchShadow(offset=(0.5, -0.5), shadow_rgbFace='black', alpha=0.6), pe.Normal()])

fig.savefig('out.png', dpi=250)
